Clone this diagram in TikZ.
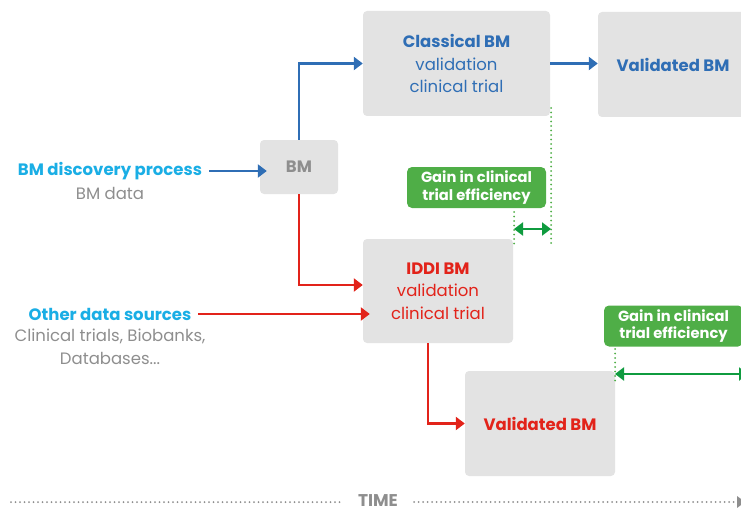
\documentclass[tikz,border=0pt]{standalone}
\usepackage{fontspec}
\setmainfont{Poppins}
\usetikzlibrary{arrows.meta}
\definecolor{boxgray}{HTML}{E3E3E3}
\definecolor{bmblue}{HTML}{2F6EB5}
\definecolor{srccyan}{HTML}{1AAEE5}
\definecolor{iddired}{HTML}{E2231A}
\definecolor{gainfill}{HTML}{4FAE47}
\definecolor{gainarrow}{HTML}{0F9B3F}
\definecolor{txtgray}{HTML}{8E8E8E}
\tikzset{
  stagebox/.style={fill=boxgray, rounded corners=4pt, inner sep=0pt, align=center,
    font=\fontsize{16.5}{22.5}\selectfont},
  gainbox/.style={fill=gainfill, text=white, rounded corners=5pt, inner sep=0pt,
    align=center, minimum width=139, minimum height=41,
    font=\bfseries\fontsize{14.7}{17.5}\selectfont},
  srclabel/.style={text=srccyan, font=\bfseries\fontsize{16.5}{18}\selectfont, inner sep=0pt},
  sublabel/.style={text=txtgray, font=\fontsize{16.5}{23}\selectfont, align=center, inner sep=0pt},
  bluearrow/.style={draw=bmblue, line width=2.8pt, -{Triangle[length=9pt,width=13pt]}},
  redarrow/.style={draw=iddired, line width=2.8pt, -{Triangle[length=9pt,width=13pt]}},
  gainarr/.style={draw=gainarrow, line width=2.8pt, {Triangle[length=9pt,width=13pt]}-{Triangle[length=9pt,width=13pt]}},
  gaindots/.style={draw=gainfill, line width=2pt, line cap=round, dash pattern=on 0pt off 4.5pt},
  timedots/.style={draw=txtgray, line width=2pt, line cap=round, dash pattern=on 0pt off 4.5pt}
}
\begin{document}
\begin{tikzpicture}[x=1pt,y=-1pt]
  \useasboundingbox (0,0) rectangle (741,508);
  \clip (0,0) rectangle (741,508);

  % stages
  \node[stagebox, minimum width=78, minimum height=54, text=txtgray] (bm) at (299,167)
    {\textbf{BM}};
  \node[stagebox, minimum width=187, minimum height=105, text=bmblue] (classical) at (456.5,63.5)
    {\textbf{Classical BM}\\validation\\clinical trial};
  \node[stagebox, minimum width=150, minimum height=105, text=bmblue] (topval) at (673,64.5)
    {\textbf{Validated BM}};
  \node[stagebox, minimum width=150, minimum height=104, text=iddired] (iddi) at (438,291)
    {\textbf{IDDI BM}\\validation\\clinical trial};
  \node[stagebox, minimum width=150, minimum height=105, text=iddired] (botval) at (540,423.5)
    {\textbf{Validated BM}};

  % inputs
  \node[srclabel] (discovery) at (110,171) {BM discovery process};
  \node[sublabel] (bmdata) at (110,193) {BM data};
  \node[srclabel] (other) at (110,314) {Other data sources};
  \node[sublabel] (otherdata) at (110,347) {Clinical trials, Biobanks,\\Databases...};

  % blue path
  \draw[bluearrow] ([xshift=7pt]discovery.east) -- ([xshift=7pt]discovery.east -| bm.west);
  \draw[bluearrow] (bm.north) |- (classical.west);
  \draw[bluearrow] (classical.east) -- (classical.east -| topval.west);

  % red path
  \draw[redarrow] (bm.south) |- ([yshift=6pt]iddi.west);
  \draw[redarrow] ([xshift=7pt]other.east) -- ([xshift=7pt]other.east -| iddi.west);
  \draw[redarrow] ([xshift=-10pt]iddi.south) |- (botval.west);

  % gain 1
  \node[gainbox] (gainone) at (476.5,187.5) {Gain in clinical\\trial efficiency};
  \coordinate (gonetop) at (551,108);
  \coordinate (gonebot) at (551,246);
  \coordinate (gtwotop) at (514,212);
  \coordinate (gtwobot) at (514,246);
  \draw[gaindots] (gonetop) -- (gonebot);
  \draw[gaindots] (gtwotop) -- (gtwobot);
  \draw[gainarr] (514,229) -- (551,229);

  % gain 2
  \node[gainbox] (gaintwo) at (673.5,326) {Gain in clinical\\trial efficiency};
  \coordinate (gthreetop) at (615,349);
  \coordinate (gthreebot) at (615,382);
  \draw[gaindots] (gthreetop) -- (gthreebot);
  \draw[gainarr] (615,374) -- (748,374);

  % time axis
  \node[text=txtgray, font=\bfseries\fontsize{17}{20}\selectfont, inner sep=0pt, anchor=base] (time) at (378,506) {TIME};
  \draw[timedots] (11,502) -- ([xshift=-16pt]time.west |- 0,502);
  \draw[timedots] ([xshift=16pt]time.east |- 0,502) -- (734,502);
  \fill[txtgray] (737,496) -- (745,502) -- (737,508) -- cycle;
\end{tikzpicture}
\end{document}
